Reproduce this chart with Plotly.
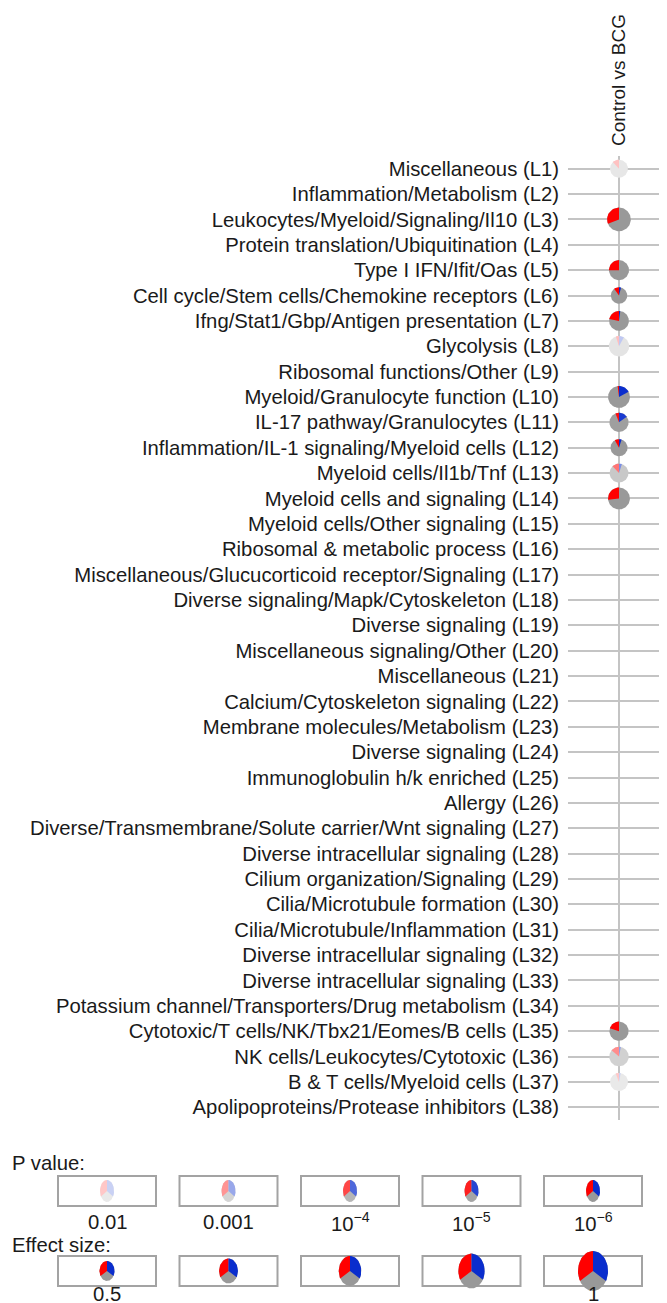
import numpy as np
import plotly.graph_objects as go

# ---------------- data ----------------
modules = [
    "Miscellaneous (L1)", "Inflammation/Metabolism (L2)", "Leukocytes/Myeloid/Signaling/Il10 (L3)",
    "Protein translation/Ubiquitination (L4)", "Type I IFN/Ifit/Oas (L5)",
    "Cell cycle/Stem cells/Chemokine receptors (L6)", "Ifng/Stat1/Gbp/Antigen presentation (L7)",
    "Glycolysis (L8)", "Ribosomal functions/Other (L9)", "Myeloid/Granulocyte function (L10)",
    "IL-17 pathway/Granulocytes (L11)", "Inflammation/IL-1 signaling/Myeloid cells (L12)",
    "Myeloid cells/Il1b/Tnf (L13)", "Myeloid cells and signaling (L14)",
    "Myeloid cells/Other signaling (L15)", "Ribosomal & metabolic process (L16)",
    "Miscellaneous/Glucucorticoid receptor/Signaling (L17)", "Diverse signaling/Mapk/Cytoskeleton (L18)",
    "Diverse signaling (L19)", "Miscellaneous signaling/Other (L20)", "Miscellaneous (L21)",
    "Calcium/Cytoskeleton signaling (L22)", "Membrane molecules/Metabolism (L23)",
    "Diverse signaling (L24)", "Immunoglobulin h/k enriched (L25)", "Allergy (L26)",
    "Diverse/Transmembrane/Solute carrier/Wnt signaling (L27)", "Diverse intracellular signaling (L28)",
    "Cilium organization/Signaling (L29)", "Cilia/Microtubule formation (L30)",
    "Cilia/Microtubule/Inflammation (L31)", "Diverse intracellular signaling (L32)",
    "Diverse intracellular signaling (L33)", "Potassium channel/Transporters/Drug metabolism (L34)",
    "Cytotoxic/T cells/NK/Tbx21/Eomes/B cells (L35)", "NK cells/Leukocytes/Cytotoxic (L36)",
    "B & T cells/Myeloid cells (L37)", "Apolipoproteins/Protease inhibitors (L38)",
]
contrast = "Control vs BCG"

N = None
# fraction of up-regulated genes (red), down-regulated genes (blue)
up_frac = [0.12, N, 0.31, N, 0.25, 0.10, 0.22, 0.05, N, 0.02, 0.06, 0.08, 0.12, 0.27,
           N, N, N, N, N, N, N, N, N, N, N, N, N, N, N, N, N, N, N, N, 0.20, 0.14, 0.06, N]
down_frac = [0.01, N, 0.01, N, 0.01, 0.04, 0.02, 0.08, N, 0.17, 0.15, 0.05, 0.05, 0.0,
             N, N, N, N, N, N, N, N, N, N, N, N, N, N, N, N, N, N, N, N, 0.01, 0.03, 0.03, N]
# -log10(p value)
neglog_p = [2.1, N, 6.0, N, 6.0, 6.0, 6.0, 2.2, N, 6.0, 5.5, 6.5, 3.4, 6.0,
            N, N, N, N, N, N, N, N, N, N, N, N, N, N, N, N, N, N, N, N, 6.0, 3.1, 2.0, N]
# effect size
effect = [0.60, N, 0.79, N, 0.67, 0.55, 0.66, 0.68, N, 0.73, 0.64, 0.57, 0.63, 0.73,
          N, N, N, N, N, N, N, N, N, N, N, N, N, N, N, N, N, N, N, N, 0.64, 0.65, 0.60, N]

legend_p_labels = ["0.01", "0.001", "10<sup>\u22124</sup>", "10<sup>\u22125</sup>", "10<sup>\u22126</sup>"]
legend_p_values = [2, 3, 4, 5, 6]
legend_es_values = [0.5, 0.625, 0.75, 0.875, 1.0]
legend_es_labels = ["0.5", "", "", "", "1"]

# ---------------- style ----------------
OFF = 8                      # page body margin of the html page
W, H = 667 - OFF, 1303 - OFF  # figure size
FONT = "Liberation Sans, Arial, sans-serif"
FS = 20.3
TXT = "#1a1a1a"
GRID = "#c4c4c4"
RED = (255, 0, 0)
BLUE = (10, 45, 205)
GRAY = (153, 153, 153)


def fy(page_y):
    return page_y - OFF


def fx(page_x):
    return page_x - OFF


def alpha_of(p):
    return float(np.interp(p, [2, 3, 4, 5, 6], [0.22, 0.42, 0.72, 0.88, 1.0]))


def tint(c, a):
    r, g, b = (int(round(255 - (255 - v) * a)) for v in c)
    return f"rgb({r},{g},{b})"


def wedge(cx, cy, rx, ry, a0, a1, n=60):
    # angles in turns, 0 = 12 o'clock, positive clockwise
    t = np.linspace(a0, a1, max(3, int(n * abs(a1 - a0)) + 2)) * 2 * np.pi
    xs = cx + rx * np.sin(t)
    ys = cy + ry * np.cos(t)
    return np.r_[cx, xs, cx], np.r_[cy, ys, cy]


def add_pie(fig, cx, cy, rx, ry, up, down, p, xa, ya):
    a = alpha_of(p)
    gx, gy = wedge(cx, cy, rx, ry, 0, 1, n=120)
    fig.add_trace(go.Scatter(x=gx[1:-1], y=gy[1:-1], fill="toself", mode="lines",
                             line=dict(width=0), fillcolor=tint(GRAY, a),
                             hoverinfo="skip", showlegend=False, xaxis=xa, yaxis=ya))
    if up and up > 0:
        wx, wy = wedge(cx, cy, rx, ry, -up, 0)
        fig.add_trace(go.Scatter(x=wx, y=wy, fill="toself", mode="lines", line=dict(width=0),
                                 fillcolor=tint(RED, a), hoverinfo="skip", showlegend=False,
                                 xaxis=xa, yaxis=ya))
    if down and down > 0:
        wx, wy = wedge(cx, cy, rx, ry, 0, down)
        fig.add_trace(go.Scatter(x=wx, y=wy, fill="toself", mode="lines", line=dict(width=0),
                                 fillcolor=tint(BLUE, a), hoverinfo="skip", showlegend=False,
                                 xaxis=xa, yaxis=ya))


fig = go.Figure()

# ---------------- main grid ----------------
top_px, bot_px = fy(156), fy(1120)
left_px, col_px = fx(568), fx(619)
ppu = (bot_px - top_px) / len(modules)
R_PX = 15.0  # radius in px for effect size 1

rows = np.arange(1, len(modules) + 1)
for i, row in enumerate(rows):
    if up_frac[i] is None:
        continue
    r = R_PX * effect[i] / ppu
    # y axis reversed: flip sign of ry so that angle 0 is at top
    add_pie(fig, 0.0, float(row), r, -r, up_frac[i], down_frac[i], neglog_p[i], "x", "y")

fig.update_layout(
    xaxis=dict(domain=[left_px / W, 1], range=[(left_px - col_px) / ppu, (W - col_px) / ppu],
               tickvals=[0], ticktext=[contrast], side="top", tickangle=-90,
               showgrid=True, gridcolor=GRID, gridwidth=2, zeroline=False, showline=False,
               ticks="", ticklabelstandoff=9,
               tickfont=dict(family=FONT, size=19, color=TXT), fixedrange=True),
    yaxis=dict(domain=[(H - bot_px) / H, (H - top_px) / H],
               range=[len(modules) + 0.5, 0.5], tickvals=list(rows), ticktext=modules,
               showgrid=True, gridcolor=GRID, gridwidth=2, zeroline=False, showline=False,
               ticks="", ticklabelstandoff=8,
               tickfont=dict(family=FONT, size=FS, color=TXT), fixedrange=True),
)

# ---------------- legends ----------------
box_c0, box_step, box_half_w = fx(107), 121.5, 49
box_h = 30


def legend_axes(n, center_px, span_px):
    xr = [-box_c0 / box_step, (W - box_c0) / box_step]
    yr = [-span_px / box_h, span_px / box_h]
    fig.update_layout(**{
        f"xaxis{n}": dict(domain=[0, 1], range=xr, visible=False, fixedrange=True, anchor=f"y{n}"),
        f"yaxis{n}": dict(domain=[(H - center_px - span_px) / H, (H - center_px + span_px) / H],
                          range=yr, visible=False, fixedrange=True, anchor=f"x{n}"),
    })


def legend_boxes(n, labels, label_off):
    for i, lab in enumerate(labels):
        fig.add_shape(type="rect", xref=f"x{n}", yref=f"y{n}",
                      x0=i - box_half_w / box_step, x1=i + box_half_w / box_step,
                      y0=-0.5, y1=0.5, line=dict(color="#a3a3a3", width=2), layer="below")
        if lab:
            fig.add_annotation(x=i, y=-0.5, xref=f"x{n}", yref=f"y{n}", text=lab,
                               showarrow=False, yanchor="middle", yshift=label_off,
                               font=dict(family=FONT, size=FS, color=TXT))


# P value legend
legend_axes(2, fy(1191), 25)
legend_boxes(2, legend_p_labels, -16)
for i, p in enumerate(legend_p_values):
    add_pie(fig, float(i), 0.0, 7.0 / box_step, 11.0 / box_h, 1 / 3, 1 / 3, p, "x2", "y2")

# Effect size legend
legend_axes(3, fy(1271), 27)
legend_boxes(3, legend_es_labels, -8)
for i, es in enumerate(legend_es_values):
    add_pie(fig, float(i), 0.0, R_PX * es / box_step, R_PX * es * 1.33 / box_h,
            1 / 3, 1 / 3, 6, "x3", "y3")

fig.add_annotation(text="P value:", xref="paper", yref="paper", x=fx(10) / W, y=(H - fy(1163)) / H,
                   xanchor="left", yanchor="middle", showarrow=False,
                   font=dict(family=FONT, size=FS, color=TXT))
fig.add_annotation(text="Effect size:", xref="paper", yref="paper", x=fx(10) / W,
                   y=(H - fy(1245)) / H, xanchor="left", yanchor="middle", showarrow=False,
                   font=dict(family=FONT, size=FS, color=TXT))

fig.update_layout(width=W, height=H, margin=dict(l=0, r=0, t=0, b=0),
                  paper_bgcolor="white", plot_bgcolor="white", showlegend=False,
                  font=dict(family=FONT, size=FS, color=TXT))

fig.write_html("out.html")
